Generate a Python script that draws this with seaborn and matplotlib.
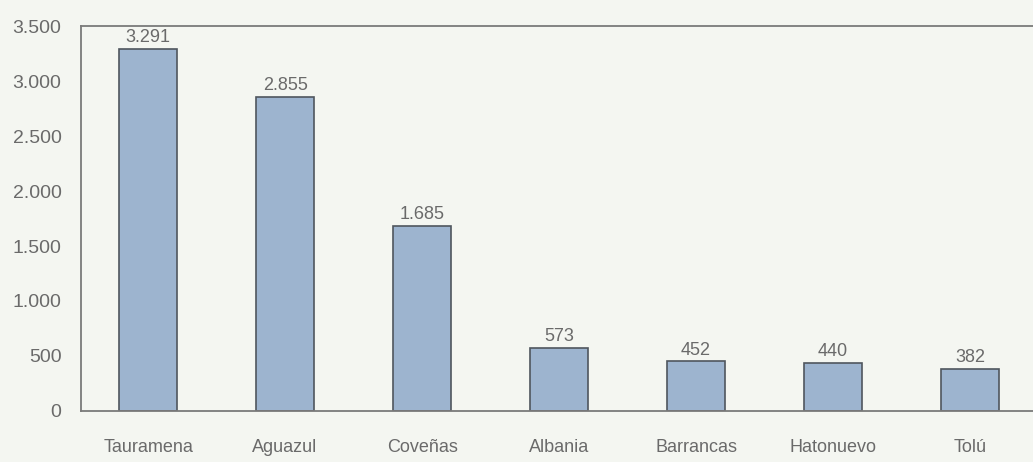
import matplotlib
matplotlib.use("Agg")
import matplotlib.pyplot as plt
from matplotlib.ticker import FuncFormatter
import seaborn as sns
import pandas as pd

municipios = ["Tauramena", "Aguazul", "Coveñas", "Albania", "Barrancas", "Hatonuevo", "Tolú"]
valores = [3291, 2855, 1685, 573, 452, 440, 382]
y_ticks = [0, 500, 1000, 1500, 2000, 2500, 3000, 3500]

def miles(v):
    return f"{int(v):,}".replace(",", ".")

sns.set_theme(style="white")
plt.rcParams["font.family"] = ["Liberation Sans", "DejaVu Sans"]

bg = "#f4f6f1"
texto = "#6a6a6a"
linea = "#7a7a7a"

df = pd.DataFrame({"municipio": municipios, "valor": valores})

fig = plt.figure(figsize=(10.33, 4.62), dpi=100, facecolor=bg)
ax = fig.add_axes([0.0784, 0.1104, 0.9216, 0.8333], facecolor=bg)

sns.barplot(data=df, x="municipio", y="valor", color="#9db4cf", width=0.42,
            edgecolor="#4f565e", linewidth=1.2, saturation=1, ax=ax)

for i, v in enumerate(valores):
    ax.text(i, v + 25, miles(v), ha="center", va="bottom", fontsize=13, color=texto)

ax.set_ylim(0, 3500)
ax.set_xlim(-0.49, 6.46)
ax.set_yticks(y_ticks)
ax.yaxis.set_major_formatter(FuncFormatter(lambda v, p: miles(v)))
ax.set_xlabel("")
ax.set_ylabel("")

# category labels sit well below the axis; minor ticks mark the gaps between bars
ax.set_xticks(range(len(municipios)))
ax.set_xticklabels(municipios)
ax.tick_params(axis="x", which="major", length=0, pad=20, labelsize=13, labelcolor=texto)
ax.set_xticks([i + 0.5 for i in range(len(municipios) - 1)], minor=True)
ax.tick_params(axis="x", which="minor", direction="in", length=5, width=1, color=linea)
ax.tick_params(axis="y", direction="in", length=8, width=1, color=linea, pad=14,
               labelsize=14, labelcolor=texto)

for side in ["left", "top", "bottom"]:
    ax.spines[side].set_visible(True)
    ax.spines[side].set_color(linea)
    ax.spines[side].set_linewidth(1.3)
ax.spines["right"].set_visible(False)

fig.savefig("out.png", dpi=100, facecolor=bg)
